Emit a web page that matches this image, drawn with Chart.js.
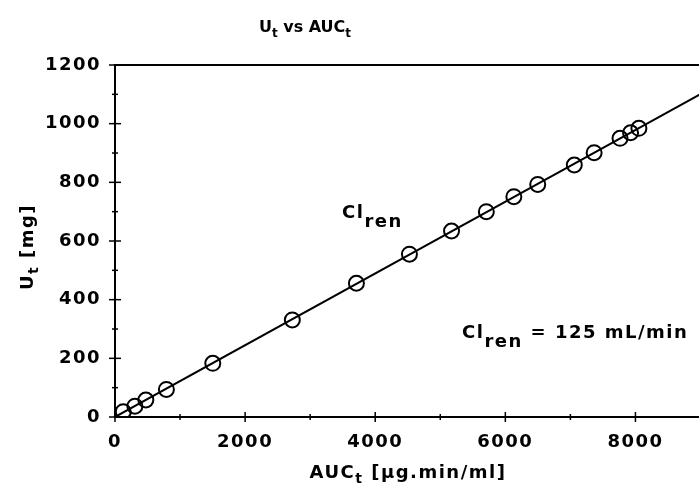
<!DOCTYPE html>
<html>
<head>
<meta charset="utf-8">
<script src="https://cdn.jsdelivr.net/npm/chart.js@4/dist/chart.umd.min.js"></script>
<style>
html,body{margin:0;padding:0;background:#fff;overflow:hidden;width:699px;height:490px;}
#wrap{position:absolute;left:0;top:0;width:710px;height:490px;}
canvas{display:block;}
</style>
</head>
<body>
<div id="wrap"><canvas id="c" width="710" height="490"></canvas></div>
<script>
// ---- data ----
const xTickValues = [0, 2000, 4000, 6000, 8000];
const yTickValues = [0, 200, 400, 600, 800, 1000, 1200];
const xMinorValues = [1000, 3000, 5000, 7000];
const yMinorValues = [100, 300, 500, 700, 900, 1100];
const aucT = [127, 306, 474, 790, 1503, 2726, 3711, 4526, 5173, 5708, 6131, 6498, 7060, 7365, 7763, 7925, 8053];
const uT   = [18, 37, 58, 94, 183, 331, 456, 555, 634, 700, 751, 793, 859, 901, 950, 969, 984];
const fitX = [0, 9000];
const fitY = [0, 1101];

const FONT = '"DejaVu Sans", sans-serif';
const SPACING = '1.5px';
const FS = 18;

function drawParts(ctx, parts, x, y, align, size, spacing) {
  // parts: [text, isSub, subSize, subOffset]
  ctx.letterSpacing = spacing;
  const widths = parts.map(p => {
    ctx.font = 'bold ' + (p[1] ? p[2] : size) + 'px ' + FONT;
    return ctx.measureText(p[0]).width;
  });
  const total = widths.reduce((a, b) => a + b, 0);
  let cx = align === 'center' ? x - total / 2 : x;
  ctx.textBaseline = 'alphabetic';
  ctx.textAlign = 'left';
  parts.forEach((p, i) => {
    ctx.font = 'bold ' + (p[1] ? p[2] : size) + 'px ' + FONT;
    ctx.fillText(p[0], cx, y + (p[1] ? p[3] : 0));
    cx += widths[i];
  });
  ctx.letterSpacing = SPACING;
}

const decor = {
  id: 'decor',
  beforeLayout(chart) { chart.ctx.letterSpacing = SPACING; },
  beforeDraw(chart) { chart.ctx.letterSpacing = SPACING; },
  afterDraw(chart) {
    const ctx = chart.ctx;
    const xs = chart.scales.x, ys = chart.scales.y;
    const a = chart.chartArea;
    ctx.save();
    ctx.strokeStyle = '#000';
    ctx.fillStyle = '#000';
    ctx.lineWidth = 2;
    // top frame line
    ctx.beginPath();
    ctx.moveTo(a.left, a.top);
    ctx.lineTo(chart.width, a.top);
    ctx.stroke();
    // ticks crossing the axes
    ctx.lineWidth = 1.5;
    yTickValues.forEach(v => {
      const py = ys.getPixelForValue(v);
      ctx.beginPath(); ctx.moveTo(a.left - 6, py); ctx.lineTo(a.left + 6, py); ctx.stroke();
    });
    yMinorValues.forEach(v => {
      const py = ys.getPixelForValue(v);
      ctx.beginPath(); ctx.moveTo(a.left - 3, py); ctx.lineTo(a.left + 3, py); ctx.stroke();
    });
    xTickValues.forEach(v => {
      const px = xs.getPixelForValue(v);
      ctx.beginPath(); ctx.moveTo(px, a.bottom - 5); ctx.lineTo(px, a.bottom + 5); ctx.stroke();
    });
    xMinorValues.forEach(v => {
      const px = xs.getPixelForValue(v);
      ctx.beginPath(); ctx.moveTo(px, a.bottom - 3); ctx.lineTo(px, a.bottom + 3); ctx.stroke();
    });
    // title
    drawParts(ctx, [['U'], ['t', true, 12, 5], [' vs AUC'], ['t', true, 12, 5]], 305, 32, 'center', 16, '0px');
    // x axis title
    drawParts(ctx, [['AUC'], ['t', true, 14, 5], [' [\u03BCg.min/ml]']], 408, 478, 'center', FS, SPACING);
    // y axis title
    ctx.save();
    ctx.translate(33, 247);
    ctx.rotate(-Math.PI / 2);
    drawParts(ctx, [['U'], ['t', true, 14, 5], [' [mg]']], 0, 0, 'center', FS, SPACING);
    ctx.restore();
    // annotations
    drawParts(ctx, [['Cl'], ['ren', true, FS, 9]], 342, 218, 'left', FS, SPACING);
    drawParts(ctx, [['Cl'], ['ren', true, FS, 9], [' = 125 mL/min']], 462, 338, 'left', FS, SPACING);
    ctx.restore();
  }
};

new Chart(document.getElementById('c'), {
  type: 'scatter',
  data: {
    datasets: [
      {
        label: 'fit',
        type: 'line',
        data: fitX.map((x, i) => ({x: x, y: fitY[i]})),
        borderColor: '#000',
        borderWidth: 2,
        pointRadius: 0,
        fill: false,
        tension: 0,
        order: 2
      },
      {
        label: 'Ut',
        data: aucT.map((x, i) => ({x: x, y: uT[i]})),
        pointStyle: 'circle',
        pointRadius: 7.5,
        borderColor: '#000',
        borderWidth: 2,
        backgroundColor: 'rgba(0,0,0,0)',
        order: 1
      }
    ]
  },
  options: {
    responsive: false,
    animation: false,
    events: [],
    layout: { padding: { top: 65, left: 0, right: 6, bottom: 0 } },
    plugins: { legend: { display: false }, title: { display: false }, tooltip: { enabled: false } },
    scales: {
      x: {
        type: 'linear',
        min: 0, max: 9000,
        afterFit(s) { s.height = 73; },
        afterBuildTicks(s) { s.ticks = xTickValues.map(v => ({value: v})); },
        grid: { display: false, drawTicks: false },
        border: { display: true, color: '#000', width: 2 },
        ticks: { color: '#000', padding: 15, maxRotation: 0, autoSkip: false,
                 font: { family: FONT, size: FS, weight: 'bold' },
                 callback: v => String(v) }
      },
      y: {
        type: 'linear',
        min: 0, max: 1200,
        afterFit(s) { s.width = 115; },
        afterBuildTicks(s) { s.ticks = yTickValues.map(v => ({value: v})); },
        grid: { display: false, drawTicks: false },
        border: { display: true, color: '#000', width: 2 },
        ticks: { color: '#000', padding: 14, autoSkip: false,
                 font: { family: FONT, size: FS, weight: 'bold' },
                 callback: v => String(v) }
      }
    }
  },
  plugins: [decor]
});
</script>
</body>
</html>
